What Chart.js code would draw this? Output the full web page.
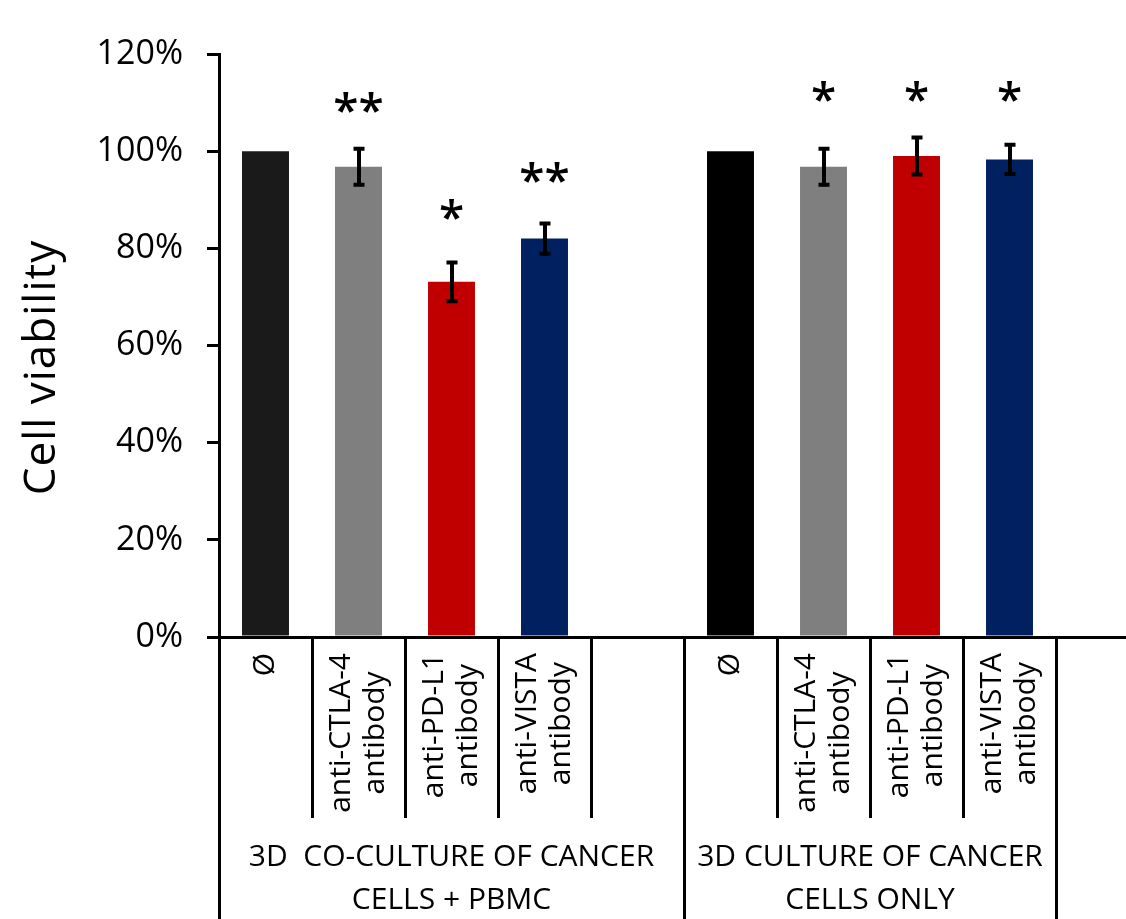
<!DOCTYPE html>
<html>
<head>
<meta charset="utf-8">
<title>Cell viability</title>
<script src="https://cdn.jsdelivr.net/npm/chart.js@4/dist/chart.umd.min.js"></script>
<style>
  html, body { margin: 0; padding: 0; background: #ffffff; }
  #wrap { width: 1126px; height: 919px; }
</style>
</head>
<body>
<div id="wrap"><canvas id="chart" width="1126" height="919"></canvas></div>
<script>
// Treatments, two culture conditions (the fifth slot of the first group is empty)
const categories = [
  ['Ø'], ['anti-CTLA-4', 'antibody'], ['anti-PD-L1', 'antibody'], ['anti-VISTA', 'antibody'], [''],
  ['Ø'], ['anti-CTLA-4', 'antibody'], ['anti-PD-L1', 'antibody'], ['anti-VISTA', 'antibody']
];
const viability = [100, 96.8, 73.1, 82.0, null, 100, 96.8, 99.0, 98.3];
const errors    = [0, 3.7, 4.0, 3.1, null, 0, 3.7, 3.8, 3.0];
const barColors = ['#1a1a1a', '#7f7f7f', '#c00000', '#002060', '#ffffff',
                   '#000000', '#7f7f7f', '#c00000', '#002060'];
const significance      = ['', '**', '*', '**', '', '', '*', '*', '*'];
const significanceLevel = [null, 110.1, 87.9, 95.7, null, null, 112.2, 112.2, 112.2];
const groupLabels = [
  ['3D  CO-CULTURE OF CANCER', 'CELLS + PBMC'],
  ['3D CULTURE OF CANCER', 'CELLS ONLY']
];
const groupSizes = [5, 4];
const yTicks = [0, 20, 40, 60, 80, 100, 120];
const yTitle = 'Cell viability';

const FONT = '"Open Sans", "DejaVu Sans", sans-serif';

function align(px, w) { return Math.round(px - w / 2) + w / 2; }

const annotate = {
  id: 'annotate',
  afterDatasetsDraw(chart) {
    const { ctx } = chart;
    const y = chart.scales.y;
    const meta = chart.getDatasetMeta(0);
    ctx.save();
    // error bars
    ctx.strokeStyle = '#000';
    ctx.lineWidth = 4;
    ctx.lineCap = 'butt';
    viability.forEach((v, i) => {
      const e = errors[i];
      if (v == null || !e) return;
      const cx = align(meta.data[i].x, 4);
      const top = y.getPixelForValue(v + e);
      const bot = y.getPixelForValue(v - e);
      ctx.beginPath();
      ctx.moveTo(cx, top - 1.5); ctx.lineTo(cx, bot + 1.5);
      ctx.stroke();
      ctx.beginPath();
      ctx.moveTo(cx - 5.5, top); ctx.lineTo(cx + 5.5, top);
      ctx.moveTo(cx - 5.5, bot); ctx.lineTo(cx + 5.5, bot);
      ctx.stroke();
    });
    // significance marks
    ctx.fillStyle = '#000';
    ctx.font = `600 46px ${FONT}`;
    ctx.textAlign = 'center';
    ctx.textBaseline = 'alphabetic';
    significance.forEach((s, i) => {
      if (!s) return;
      const m = ctx.measureText(s);
      const cy = y.getPixelForValue(significanceLevel[i]);
      const base = cy + (m.actualBoundingBoxAscent - m.actualBoundingBoxDescent) / 2;
      ctx.fillText(s, meta.data[i].x, base);
    });
    ctx.restore();
  },
  afterDraw(chart) {
    const { ctx, chartArea: a } = chart;
    const x = chart.scales.x;
    const axisY = x.top;
    const half = (x.getPixelForValue(1) - x.getPixelForValue(0)) / 2;
    ctx.save();
    ctx.strokeStyle = '#000';
    ctx.fillStyle = '#000';
    ctx.lineWidth = 3;
    ctx.lineCap = 'butt';

    // axis line runs on to the right edge
    const ay = align(axisY, 3);
    ctx.beginPath();
    ctx.moveTo(a.right, ay); ctx.lineTo(chart.width, ay);
    ctx.stroke();

    // category separators; group edges run to the bottom
    const edges = new Set([0]);
    let acc = 0;
    groupSizes.forEach(n => { acc += n; edges.add(acc); });
    const bounds = [];
    for (let i = 0; i <= categories.length; i++) {
      const bx = i < categories.length ? x.getPixelForValue(i) - half
                                       : x.getPixelForValue(i - 1) + half;
      bounds.push(bx);
      const len = edges.has(i) ? chart.height - axisY : 181;
      const lx = align(bx, 3);
      ctx.beginPath();
      ctx.moveTo(lx, axisY); ctx.lineTo(lx, axisY + len);
      ctx.stroke();
    }

    // rotated category labels
    ctx.font = `30px ${FONT}`;
    ctx.textAlign = 'center';
    ctx.textBaseline = 'middle';
    categories.forEach((lines, i) => {
      const cx = x.getPixelForValue(i);
      const maxW = Math.max(...lines.map(t => ctx.measureText(t).width));
      lines.forEach((t, j) => {
        const lx = cx + (j - (lines.length - 1) / 2) * 34;
        ctx.save();
        ctx.translate(lx, axisY + 16 + maxW / 2);
        ctx.rotate(-Math.PI / 2);
        ctx.fillText(t, 0, 0);
        ctx.restore();
      });
    });

    // group labels
    ctx.textBaseline = 'alphabetic';
    let start = 0;
    groupLabels.forEach((lines, g) => {
      const end = start + groupSizes[g];
      const gx = (bounds[start] + bounds[end]) / 2;
      lines.forEach((t, j) => ctx.fillText(t, gx, axisY + 229 + j * 43));
      start = end;
    });

    // value axis title
    ctx.font = `44px ${FONT}`;
    ctx.letterSpacing = '1px';
    ctx.save();
    ctx.translate(55, (a.top + a.bottom) / 2 + 22);
    ctx.rotate(-Math.PI / 2);
    ctx.fillText(yTitle, 0, 0);
    ctx.restore();
    ctx.restore();
  }
};

new Chart(document.getElementById('chart'), {
  type: 'bar',
  data: {
    labels: categories,
    datasets: [{
      data: viability,
      backgroundColor: barColors,
      borderWidth: 0,
      barPercentage: 0.505,
      categoryPercentage: 1.0
    }]
  },
  options: {
    responsive: false,
    animation: false,
    layout: { padding: { left: 0, top: 54, right: 70, bottom: 0 } },
    plugins: { legend: { display: false }, tooltip: { enabled: false } },
    scales: {
      x: {
        ticks: { display: false },
        grid: { display: false },
        border: { display: true, color: '#000', width: 3 },
        afterFit(scale) { scale.height = 282; }
      },
      y: {
        min: 0,
        max: 120,
        afterBuildTicks(scale) { scale.ticks = yTicks.map(v => ({ value: v })); },
        ticks: {
          callback: v => v + '%',
          color: '#000',
          padding: 24,
          font: { family: FONT, size: 34 }
        },
        grid: { drawOnChartArea: false, drawTicks: true, tickLength: 12, color: '#000', lineWidth: 3 },
        border: { display: true, color: '#000', width: 3 },
        afterFit(scale) { scale.width = 219; }
      }
    }
  },
  plugins: [annotate]
});
</script>
</body>
</html>
